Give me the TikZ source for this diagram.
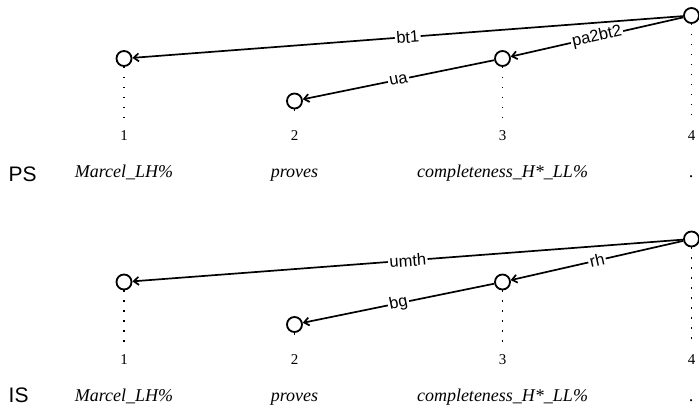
\documentclass[tikz,border=0pt]{standalone}
\usepackage{fontspec}
\setmainfont{Liberation Serif}
\newfontfamily\arcfont{Liberation Sans}
\usetikzlibrary{arrows.meta}
\tikzset{tok/.style={circle,draw,line width=1.8pt,minimum size=15pt,inner sep=0pt},
 arc/.style={-{Straight Barb[length=5pt,width=8pt]},line width=1.7pt},
 lab/.style={fill=white,inner sep=1.5pt,sloped,font=\arcfont\fontsize{16.5}{18}\selectfont},
 proj/.style={line width=1.6pt,dash pattern=on 1.6pt off 8.4pt},
 idx/.style={anchor=base,inner sep=1pt,font=\fontsize{15}{17}\selectfont},
 wrd/.style={anchor=base,inner sep=0.5pt,font=\itshape\fontsize{18}{20}\selectfont},
 tier/.style={anchor=base west,inner sep=0.5pt,font=\arcfont\fontsize{21}{23}\selectfont}}
\begin{document}
\begin{tikzpicture}[x=1pt,y=-1pt]
\useasboundingbox (0,0) rectangle (699,406);
% PS
\node[tok](p1) at (124,58.5){};\node[tok](p2) at (294.5,101){};
\node[tok](p3) at (502.5,58.5){};\node[tok](p4) at (691.5,15.5){};
\coordinate(pe1) at (124,119);\coordinate(pe2) at (294.5,119);
\coordinate(pe3) at (502.5,119);\coordinate(pe4) at (691.5,119);
\draw[proj](p1.south)--(pe1);\draw[proj](p2.south)--(pe2);
\draw[proj](p3.south)--(pe3);\draw[proj](p4.south)--(pe4);
\draw[arc](p4)--node[lab]{bt1}(p1);
\draw[arc](p4)--node[lab]{pa2bt2}(p3);
\draw[arc](p3)--node[lab]{ua}(p2);
\node[idx](pi1) at (124,140.5){1};\node[idx](pi2) at (294.5,140.5){2};
\node[idx](pi3) at (502.5,140.5){3};\node[idx](pi4) at (691.5,140.5){4};
\node[tier](ps) at (8,181.5){PS};
\node[wrd](pw1) at (124,178){Marcel\_LH\%};\node[wrd](pw2) at (294.5,178){proves};
\node[wrd](pw3) at (502.5,178){completeness\_H*\_LL\%};\node[wrd](pw4) at (691.5,178){.};
% IS
\node[tok](i1) at (124,282){};\node[tok](i2) at (294.5,324.5){};
\node[tok](i3) at (502.5,282){};\node[tok](i4) at (691.5,239){};
\coordinate(ie1) at (124,342.5);\coordinate(ie2) at (294.5,342.5);
\coordinate(ie3) at (502.5,342.5);\coordinate(ie4) at (691.5,342.5);
\draw[proj](i1.south)--(ie1);\draw[proj](i2.south)--(ie2);
\draw[proj](i3.south)--(ie3);\draw[proj](i4.south)--(ie4);
\draw[arc](i4)--node[lab]{umth}(i1);
\draw[arc](i4)--node[lab]{rh}(i3);
\draw[arc](i3)--node[lab]{bg}(i2);
\node[idx](ii1) at (124,364){1};\node[idx](ii2) at (294.5,364){2};
\node[idx](ii3) at (502.5,364){3};\node[idx](ii4) at (691.5,364){4};
\node[tier](is) at (8,402){IS};
\node[wrd](iw1) at (124,401){Marcel\_LH\%};\node[wrd](iw2) at (294.5,401){proves};
\node[wrd](iw3) at (502.5,401){completeness\_H*\_LL\%};\node[wrd](iw4) at (691.5,401){.};
\end{tikzpicture}
\end{document}
